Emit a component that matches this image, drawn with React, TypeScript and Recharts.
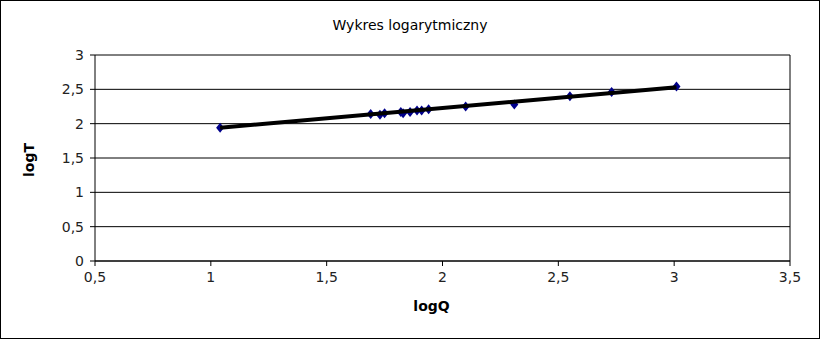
import {
  ComposedChart, Scatter, XAxis, YAxis, CartesianGrid, ReferenceLine, Label,
} from 'recharts'

// pomiary (logQ, logT)
const logQ = [1.04, 1.69, 1.73, 1.75, 1.82, 1.83, 1.86, 1.89, 1.91, 1.94, 2.1, 2.31, 2.55, 2.73, 3.01]
const logT = [1.94, 2.14, 2.13, 2.15, 2.17, 2.15, 2.17, 2.19, 2.19, 2.21, 2.25, 2.28, 2.4, 2.46, 2.54]

// linia trendu (końce)
const trendQ = [1.04, 3.01]
const trendT = [1.94, 2.53]

const xTicks = [0.5, 1, 1.5, 2, 2.5, 3, 3.5]
const yTicks = [0, 0.5, 1, 1.5, 2, 2.5, 3]

const points = logQ.map((q, i) => ({ x: q, y: logT[i] }))
const trend = trendQ.map((q, i) => ({ x: q, y: trendT[i] }))

const fmt = (v: number) => String(v).replace('.', ',')
const font = 'DejaVu Sans, sans-serif'

// mały romb jak w arkuszu
const Diamond = (props: any) => {
  const { cx, cy } = props
  if (cx == null || cy == null) return null
  const rx = 4
  const ry = 5
  return (
    <path
      d={`M${cx},${cy - ry}L${cx + rx},${cy}L${cx},${cy + ry}L${cx - rx},${cy}Z`}
      fill="#00008b"
    />
  )
}

export default function App() {
  return (
    <div
      style={{
        position: 'absolute', left: 0, top: 0, width: 820, height: 339,
        border: '1px solid #000', boxSizing: 'border-box', background: '#fff',
        fontFamily: font,
      }}
    >
      <div
        style={{
          position: 'absolute', top: 16, width: '100%', textAlign: 'center',
          fontSize: 14, color: '#000',
        }}
      >
        Wykres logarytmiczny
      </div>
      <ComposedChart
        width={818}
        height={337}
        margin={{ top: 54, right: 29, bottom: 0, left: 0 }}
        style={{ position: 'absolute', left: 0, top: 0 }}
      >
        <CartesianGrid vertical={false} stroke="#000" strokeWidth={1} />
        <XAxis
          type="number"
          dataKey="x"
          domain={[0.5, 3.5]}
          ticks={xTicks}
          tickFormatter={fmt}
          stroke="#000"
          tickSize={5}
          tickMargin={6}
          tick={{ fill: '#222', fontSize: 14, fontFamily: font }}
          height={77}
        >
          <Label value="logQ" position="insideTop" offset={40} dx={-11} style={{ fontWeight: 'bold', fontSize: 14, fill: '#000', fontFamily: font }} />
        </XAxis>
        <YAxis
          type="number"
          dataKey="y"
          domain={[0, 3]}
          ticks={yTicks}
          tickFormatter={fmt}
          stroke="#000"
          tickSize={5}
          tickMargin={6}
          tick={{ fill: '#222', fontSize: 14, fontFamily: font }}
          width={94}
        >
          <Label value="logT" angle={-90} position="insideLeft" offset={28} dy={2} style={{ fontWeight: 'bold', fontSize: 14, fill: '#000', fontFamily: font, textAnchor: 'middle' }} />
        </YAxis>
        <ReferenceLine x={3.5} stroke="#000" />
        <Scatter data={points} fill="#00008b" shape={<Diamond />} isAnimationActive={false} />
        <Scatter
          data={trend}
          line={{ stroke: '#000', strokeWidth: 4 }}
          shape={() => null}
          isAnimationActive={false}
        />
      </ComposedChart>
    </div>
  )
}
